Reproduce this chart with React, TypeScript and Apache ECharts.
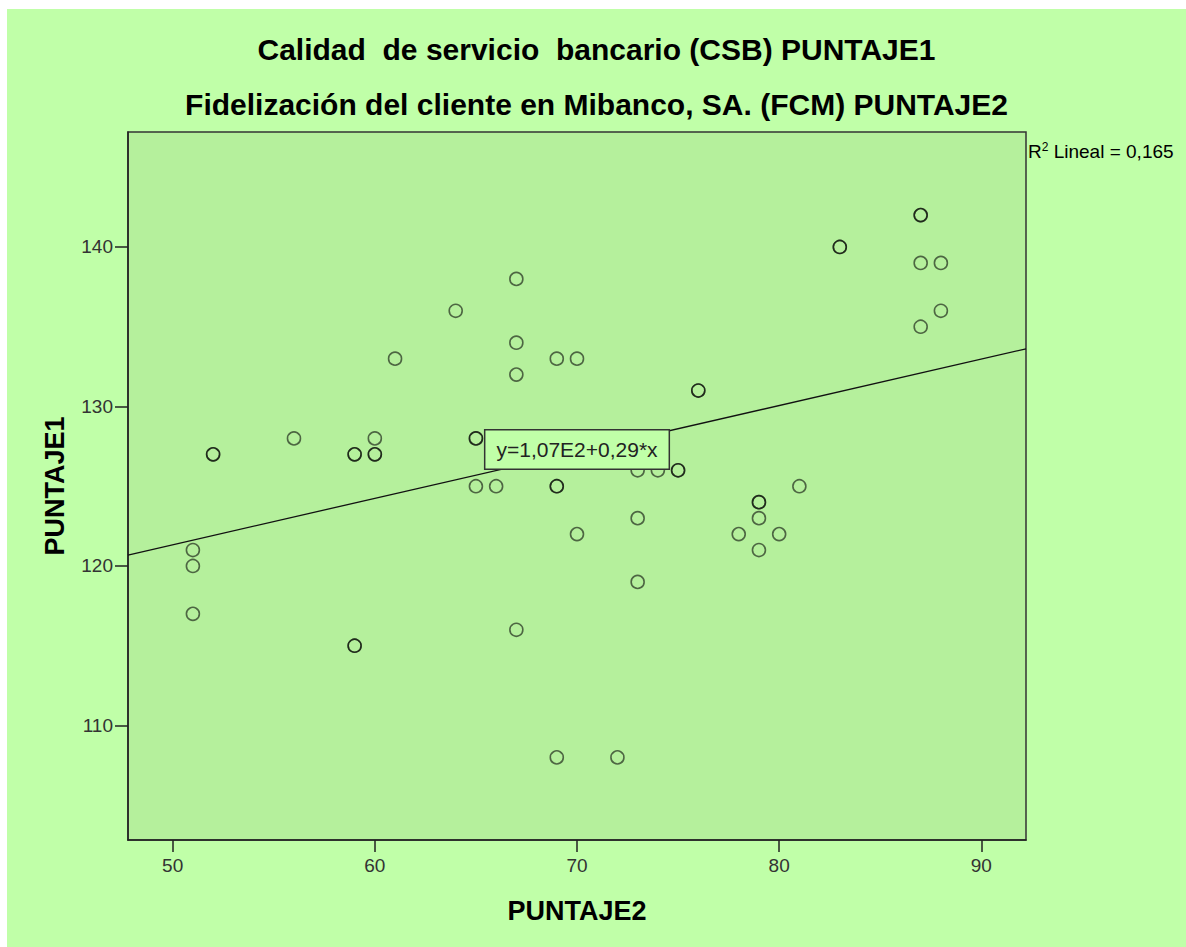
import React, { useEffect, useRef } from "react";
import * as echarts from "echarts";

// PUNTAJE2 (x) and PUNTAJE1 (y), one entry per case (repeated cases drawn twice)
const PUNTAJE2 = [51, 51, 51, 52, 52, 56, 59, 59, 59, 59, 60, 60, 60, 61, 64, 65, 65, 65, 66, 67, 67, 67, 67, 69, 69, 69, 69, 70, 70, 72, 73, 73, 73, 74, 75, 75, 76, 76, 78, 79, 79, 79, 79, 80, 81, 83, 83, 87, 87, 87, 87, 88, 88];
const PUNTAJE1 = [121, 120, 117, 127, 127, 128, 127, 127, 115, 115, 128, 127, 127, 133, 136, 128, 128, 125, 125, 138, 134, 132, 116, 133, 125, 125, 108, 133, 122, 108, 126, 123, 119, 126, 126, 126, 131, 131, 122, 124, 124, 123, 121, 122, 125, 140, 140, 142, 142, 139, 135, 139, 136];

const X_TICKS = [50, 60, 70, 80, 90];
const Y_TICKS = [110, 120, 130, 140];
const X_RANGE = [47.79, 92.21];
const Y_RANGE = [102.82, 147.21];

const FIT_INTERCEPT = 106.78;
const FIT_SLOPE = 0.291;
const FIT_LABEL = "y=1,07E2+0,29*x";
const FIT_LABEL_AT = [70, 127.3];
const R2_VALUE = "0,165";

const TITLE_LINES = [
  "Calidad  de servicio  bancario (CSB) PUNTAJE1",
  "Fidelización del cliente en Mibanco, SA. (FCM) PUNTAJE2",
];
const X_NAME = "PUNTAJE2";
const Y_NAME = "PUNTAJE1";

const FONT = "'Liberation Sans', Arial, sans-serif";
const OUTER_BG = "#C0FFA8";

export default function App() {
  const ref = useRef<HTMLDivElement>(null);

  useEffect(() => {
    document.documentElement.style.overflow = "hidden";
    document.body.style.overflow = "hidden";
    if (!ref.current) return;
    const chart = echarts.init(ref.current, undefined, { renderer: "svg" });
    const fit = (x: number) => FIT_INTERCEPT + FIT_SLOPE * x;
    const axisLineStyle = { color: "#222", width: 1.5 };
    chart.setOption({
      animation: false,
      backgroundColor: OUTER_BG,
      title: [
        {
          text: TITLE_LINES[0],
          left: "center",
          top: 20,
          textStyle: { fontFamily: FONT, fontWeight: "bold", fontSize: 30, color: "#000" },
        },
        {
          text: TITLE_LINES[1],
          left: "center",
          top: 75,
          textStyle: { fontFamily: FONT, fontWeight: "bold", fontSize: 30, color: "#000" },
        },
      ],
      grid: {
        left: 121,
        top: 123,
        right: 160,
        bottom: 107,
        show: true,
        backgroundColor: "#B5F09C",
        borderColor: "#333",
        borderWidth: 1.5,
      },
      xAxis: {
        type: "value",
        min: X_RANGE[0],
        max: X_RANGE[1],
        name: X_NAME,
        nameLocation: "middle",
        nameGap: 57,
        nameTextStyle: { fontFamily: FONT, fontWeight: "bold", fontSize: 27, color: "#000" },
        axisLine: { show: true, onZero: false, lineStyle: axisLineStyle },
        axisTick: { show: true, length: 12, customValues: X_TICKS, lineStyle: axisLineStyle },
        axisLabel: { customValues: X_TICKS, fontFamily: FONT, fontSize: 19, color: "#333", margin: 16 },
        splitLine: { show: false },
      },
      yAxis: {
        type: "value",
        min: Y_RANGE[0],
        max: Y_RANGE[1],
        name: Y_NAME,
        nameLocation: "middle",
        nameGap: 60,
        nameTextStyle: { fontFamily: FONT, fontWeight: "bold", fontSize: 27, color: "#000" },
        axisLine: { show: true, onZero: false, lineStyle: axisLineStyle },
        axisTick: { show: true, length: 13, customValues: Y_TICKS, lineStyle: axisLineStyle },
        axisLabel: { customValues: Y_TICKS, fontFamily: FONT, fontSize: 19, color: "#333", margin: 15 },
        splitLine: { show: false },
      },
      series: [
        {
          type: "scatter",
          data: PUNTAJE2.map((x, i) => [x, PUNTAJE1[i]]),
          symbol: "circle",
          symbolSize: 13,
          itemStyle: { color: "rgba(0,0,0,0)", borderColor: "rgba(0,0,0,0.72)", borderWidth: 1.6 },
          z: 2,
          silent: true,
        },
        {
          type: "line",
          data: [
            [X_RANGE[0], fit(X_RANGE[0])],
            [X_RANGE[1], fit(X_RANGE[1])],
          ],
          symbol: "none",
          showSymbol: false,
          lineStyle: { color: "#111", width: 1.3 },
          z: 3,
          silent: true,
          markPoint: {
            symbol: "circle",
            symbolSize: 0,
            silent: true,
            label: {
              show: true,
              position: "inside",
              formatter: FIT_LABEL,
              fontFamily: FONT,
              fontSize: 21,
              color: "#222",
              backgroundColor: OUTER_BG,
              borderColor: "#333",
              borderWidth: 1.5,
              padding: [9, 11, 8, 11],
            },
            data: [{ coord: FIT_LABEL_AT, value: FIT_LABEL }],
          },
        },
      ],
      graphic: [
        {
          type: "text",
          left: 1021,
          top: 132,
          style: {
            text: "{r|R}{s|2}{r| Lineal = " + R2_VALUE + "}",
            rich: {
              r: { fontFamily: FONT, fontSize: 19, fill: "#000" },
              s: { fontFamily: FONT, fontSize: 12, fill: "#000", verticalAlign: "top", padding: [0, 0, 8, 0] },
            },
          },
        },
      ],
    });
    return () => chart.dispose();
  }, []);

  return (
    <div
      style={{
        position: "absolute",
        left: 7,
        top: 9,
        width: 1220,
        height: 980,
        background: OUTER_BG,
      }}
    >
      <div ref={ref} style={{ width: 1179, height: 938 }} />
    </div>
  );
}
